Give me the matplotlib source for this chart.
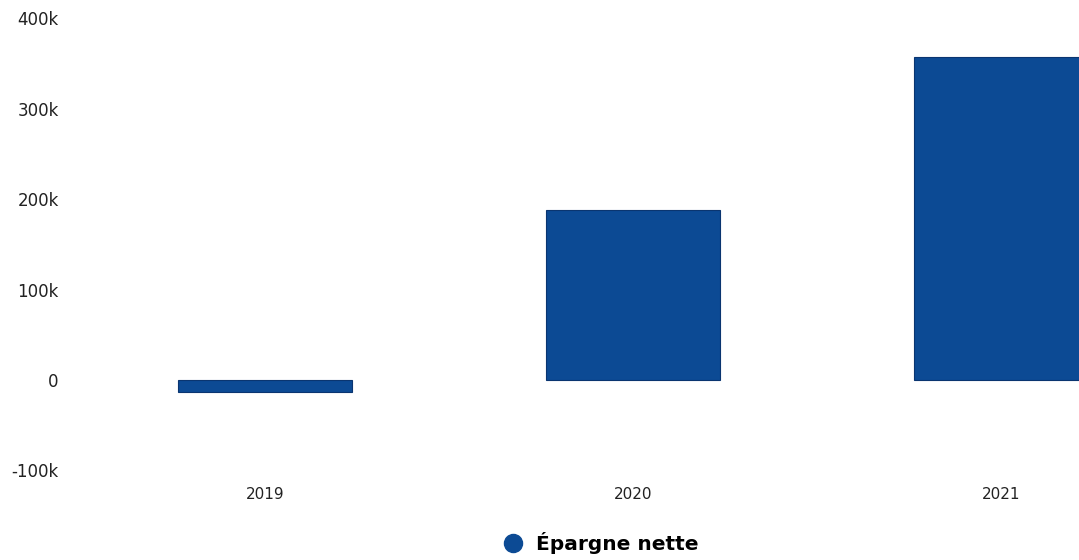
import numpy as np
import matplotlib.pyplot as plt
from matplotlib.ticker import FuncFormatter
from matplotlib.lines import Line2D

years = ['2019', '2020', '2021']
epargne_nette = [-13000, 188000, 357000]
yticks = [-100000, 0, 100000, 200000, 300000, 400000]

bar_color = '#0c4a94'

fig = plt.figure(figsize=(10.79, 5.6), dpi=100)
ax = fig.add_axes([0.075, 0.160, 0.925, 0.807])

x = np.arange(len(years))
ax.bar(x, epargne_nette, width=0.475, color=bar_color,
       edgecolor='#0a3570', linewidth=0.8)

ax.set_ylim(-100000, 400000)
ax.set_xlim(-0.5, 2.212)
ax.set_yticks(yticks)
ax.yaxis.set_major_formatter(FuncFormatter(
    lambda v, p: '0' if v == 0 else f'{int(v / 1000)}k'))
ax.set_xticks(x)
ax.set_xticklabels(years)

for s in ax.spines.values():
    s.set_visible(False)
ax.tick_params(axis='both', length=0, colors='#222222', labelsize=12)
ax.tick_params(axis='y', pad=16)
ax.tick_params(axis='x', pad=12, labelsize=11)

handle = Line2D([], [], marker='o', linestyle='none', markersize=13,
                markerfacecolor=bar_color, markeredgecolor=bar_color)
fig.legend([handle], ['Épargne nette'], loc='center',
           bbox_to_anchor=(0.552, 0.03), frameon=False, handletextpad=0.15,
           prop={'weight': 'bold', 'size': 14.5})

fig.savefig('out.png', dpi=100)
